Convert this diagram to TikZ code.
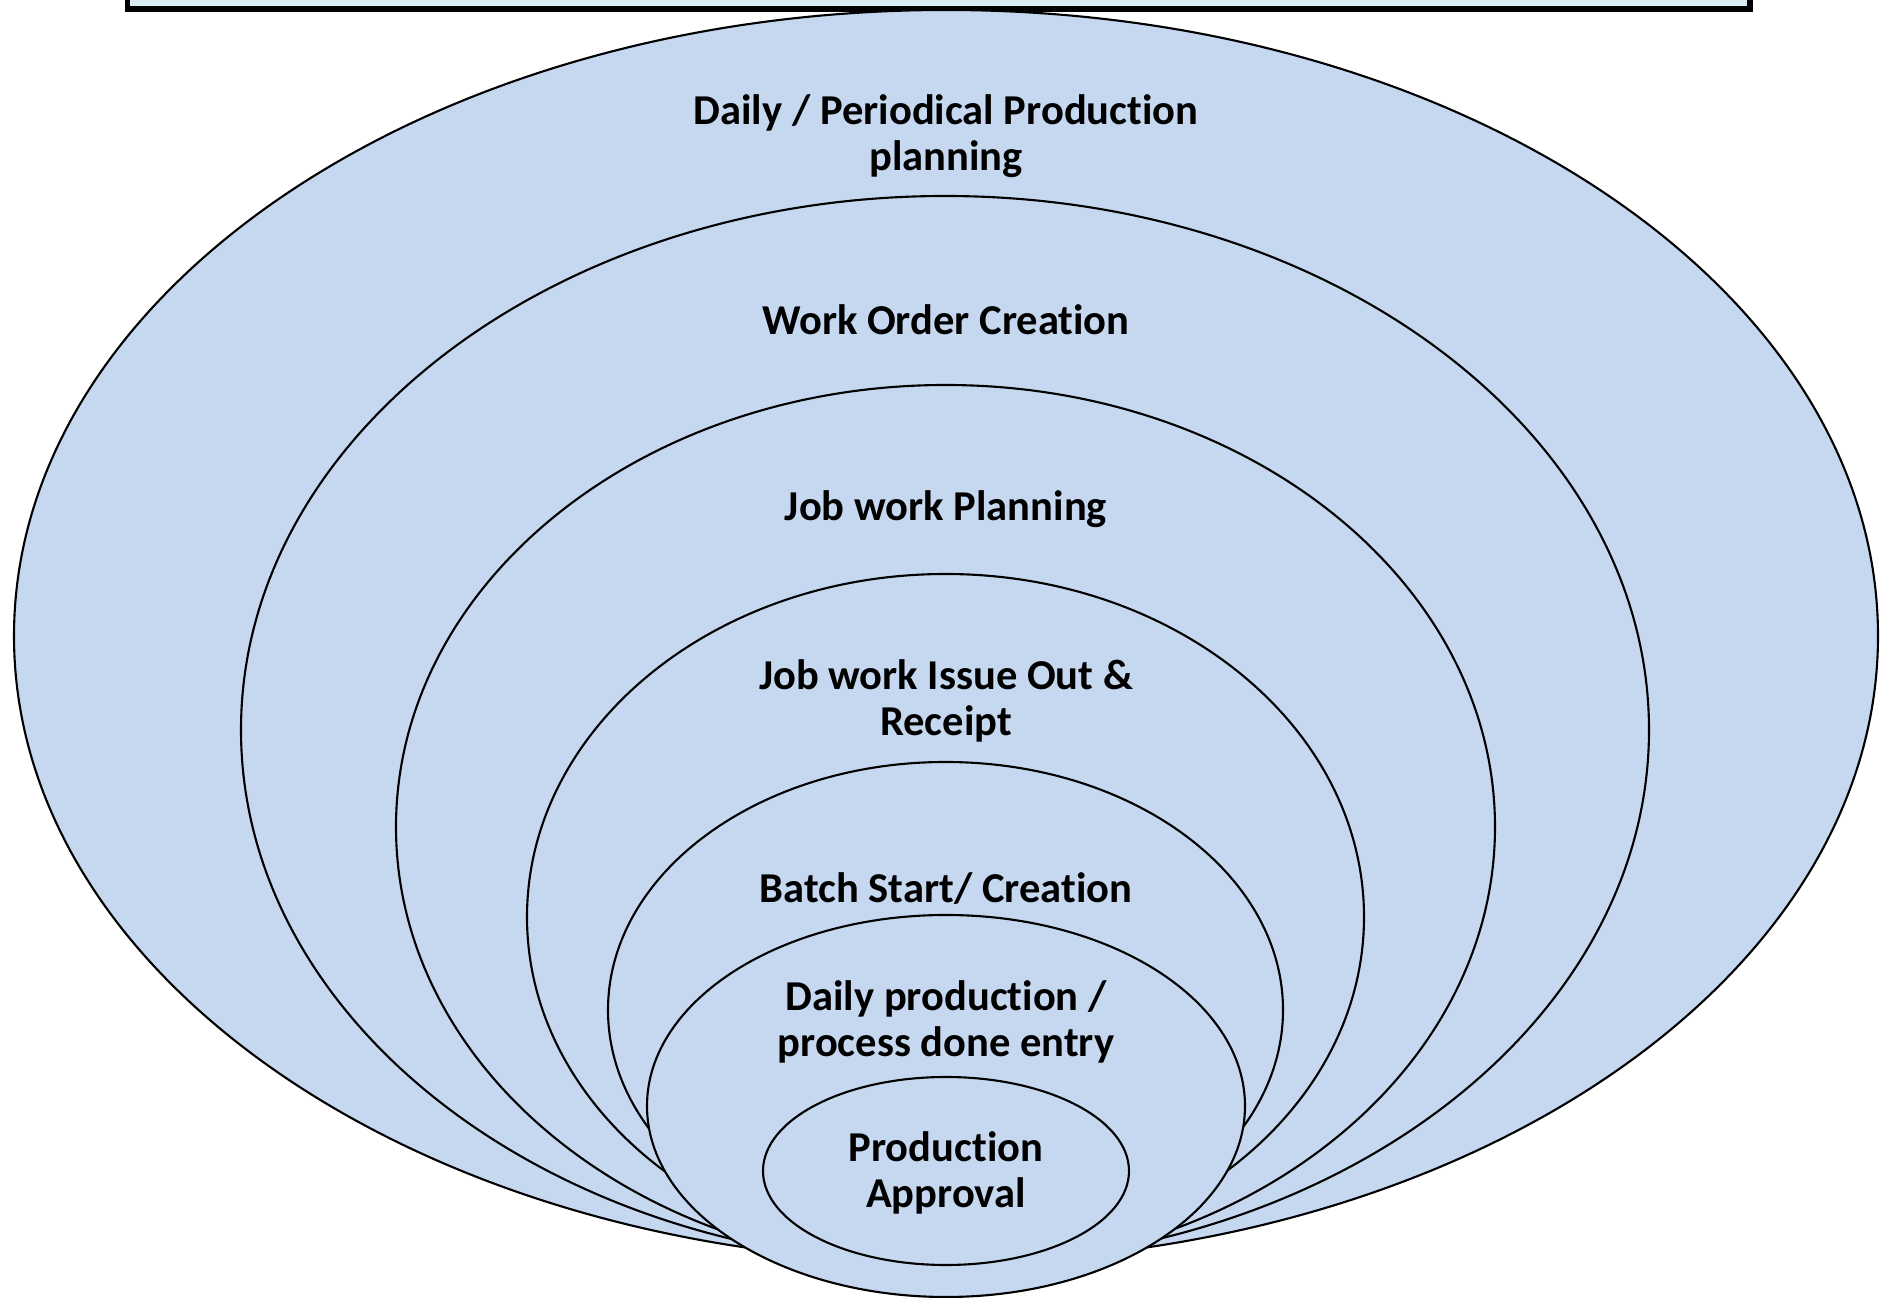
\documentclass[tikz,border=0pt]{standalone}
\usepackage{fontspec}
\setmainfont{Carlito}[Ligatures=NoCommon]
\usetikzlibrary{shapes.geometric}
\definecolor{ringfill}{HTML}{C5D8F0}
\definecolor{boxfill}{HTML}{DAECF3}
\tikzset{
  ring/.style={ellipse, draw=black, line width=0.6pt, fill=ringfill, inner sep=0pt, outer sep=0pt},
  lbl/.style={align=center, font=\fontsize{12.1}{13.1}\selectfont\bfseries, inner sep=0pt}
}
\begin{document}
\begin{tikzpicture}[x=0.01cm, y=-0.01cm]
\useasboundingbox (0,0) rectangle (1881,1298);
\node[draw=black, line width=1.7pt, fill=boxfill, minimum width=1622*0.01cm, minimum height=120*0.01cm, inner sep=0pt] (topbox) at (938.5,-51) {};
\node[ring, minimum width=1864*0.01cm, minimum height=1252*0.01cm] (e1) at (946,636) {};
\node[ring, minimum width=1408*0.01cm, minimum height=1068*0.01cm] (e2) at (945,730) {};
\node[ring, minimum width=1099*0.01cm, minimum height=884*0.01cm] (e3) at (945.5,827) {};
\node[ring, minimum width=837*0.01cm, minimum height=686*0.01cm] (e4) at (945.5,917) {};
\node[ring, minimum width=675*0.01cm, minimum height=496*0.01cm] (e5) at (945.5,1010) {};
\node[ring, minimum width=598*0.01cm, minimum height=382*0.01cm] (e6) at (946,1106) {};
\node[ring, minimum width=366*0.01cm, minimum height=188*0.01cm] (e7) at (946,1171) {};
\node[lbl] (t1) at (946,136) {Daily / Periodical Production\\planning};
\node[lbl] (t2) at (946,320) {Work Order Creation};
\node[lbl] (t3) at (946,509) {Job work Planning};
\node[lbl] (t4) at (946,701) {Job work Issue Out \&\\Receipt};
\node[lbl] (t5) at (946,889) {Batch Start/ Creation};
\node[lbl] (t6) at (946,1022) {Daily production /\\process done entry};
\node[lbl] (t7) at (946,1173) {Production\\Approval};
\end{tikzpicture}
\end{document}
